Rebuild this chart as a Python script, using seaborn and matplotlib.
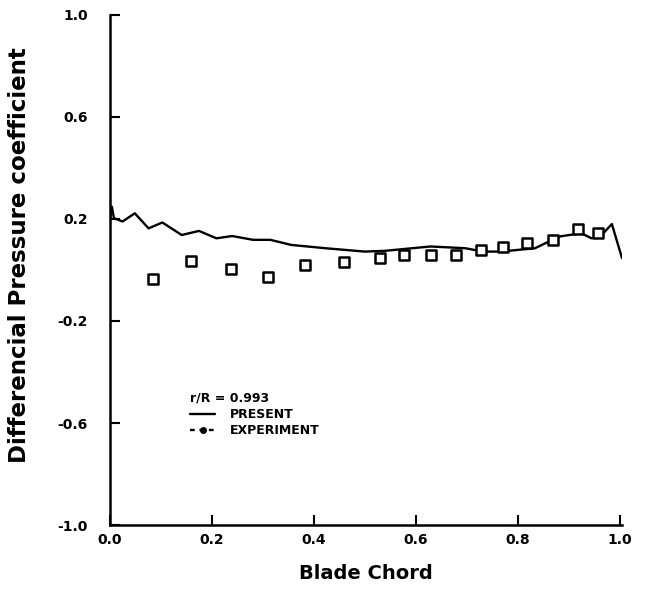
import matplotlib
matplotlib.use("Agg")
import matplotlib.pyplot as plt
import seaborn as sns
import pandas as pd
from matplotlib.lines import Line2D

# Present (computed) curve
present_x = [0.0, 0.004, 0.008, 0.025, 0.049, 0.076, 0.103, 0.141, 0.175, 0.209, 0.24,
             0.281, 0.315, 0.356, 0.424, 0.5, 0.54, 0.629, 0.698, 0.732, 0.766, 0.834,
             0.882, 0.925, 0.945, 0.965, 0.985, 1.005]
present_y = [0.2, 0.248, 0.203, 0.19, 0.222, 0.163, 0.186, 0.137, 0.153, 0.124, 0.133,
             0.118, 0.118, 0.098, 0.085, 0.072, 0.075, 0.092, 0.085, 0.072, 0.072, 0.085,
             0.131, 0.144, 0.124, 0.137, 0.18, 0.046]

# Experiment points
exp_x = [0.084, 0.159, 0.237, 0.31, 0.382, 0.459, 0.531, 0.578, 0.631, 0.68,
         0.729, 0.771, 0.818, 0.869, 0.918, 0.957]
exp_y = [-0.035, 0.035, 0.004, -0.027, 0.02, 0.031, 0.047, 0.059, 0.059, 0.059,
         0.078, 0.09, 0.106, 0.118, 0.161, 0.145]

x_ticks = [0.0, 0.2, 0.4, 0.6, 0.8, 1.0]
y_ticks = [-1.0, -0.6, -0.2, 0.2, 0.6, 1.0]

sns.set_style("ticks")
plt.rcParams['font.family'] = ['DejaVu Sans']
plt.rcParams['text.color'] = 'black'
plt.rcParams['axes.labelcolor'] = 'black'
plt.rcParams['xtick.color'] = 'black'
plt.rcParams['ytick.color'] = 'black'
plt.rcParams['axes.edgecolor'] = 'black'

fig = plt.figure(figsize=(6.5, 5.92), dpi=100)
ax = fig.add_axes([0.169, 0.113, 0.788, 0.862])

df_line = pd.DataFrame({"x": present_x, "y": present_y})
df_exp = pd.DataFrame({"x": exp_x, "y": exp_y})

sns.lineplot(data=df_line, x="x", y="y", ax=ax, color="black", linewidth=1.7,
             sort=False, estimator=None)
sns.scatterplot(data=df_exp, x="x", y="y", ax=ax, marker="s", s=45,
                facecolor="white", edgecolor="black", linewidth=1.8, zorder=3)

ax.set_xlim(0.0, 1.005)
ax.set_ylim(-1.0, 1.0)
ax.set_xticks(x_ticks)
ax.set_yticks(y_ticks)
ax.set_xticklabels([f"{v:.1f}" for v in x_ticks], fontsize=10, fontweight="bold")
ax.set_yticklabels([f"{v:.1f}" for v in y_ticks], fontsize=10, fontweight="bold")
ax.tick_params(axis="both", direction="in", length=7, width=1.5, pad=6)
ax.tick_params(axis="y", pad=16)

for s in ["top", "right"]:
    ax.spines[s].set_visible(False)
for s in ["left", "bottom"]:
    ax.spines[s].set_linewidth(1.8)

ax.set_xlabel("Blade Chord", fontsize=14, fontweight="bold", labelpad=12)
ax.set_ylabel("Differencial Pressure coefficient", fontsize=16.5, fontweight="bold")
ax.yaxis.set_label_coords(-0.153, 0.53)

handles = [
    Line2D([0], [0], color="black", linewidth=1.7),
    Line2D([0], [0], color="black", linewidth=1.7, linestyle=(0, (2, 2)),
           marker="o", markersize=4),
]
leg = ax.legend(handles, ["PRESENT", "EXPERIMENT"], title="r/R = 0.993",
                loc="upper left", bbox_to_anchor=(0.14, 0.278), frameon=False,
                prop={"size": 9, "weight": "bold"}, handlelength=2.0,
                handletextpad=1.2, borderpad=0.2, labelspacing=0.25)
leg.get_title().set_fontsize(9)
leg.get_title().set_fontweight("bold")
leg._legend_box.align = "left"

fig.savefig("out.png", dpi=100)
